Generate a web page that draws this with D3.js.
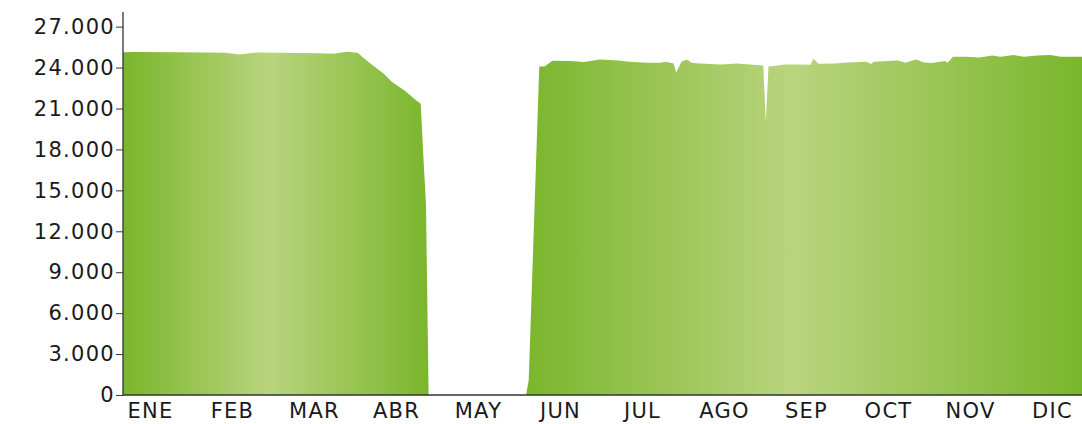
<!DOCTYPE html>
<html>
<head>
<meta charset="utf-8">
<script src="https://cdn.jsdelivr.net/npm/d3@7"></script>
<style>
  body { margin: 0; background: #fff; }
  .axis text { font-family: "DejaVu Sans", sans-serif; font-size: 21px; letter-spacing: 1.3px; fill: #1a1a1a; }
  .axis path, .axis line { stroke: #333; }
</style>
</head>
<body>
<script>
const months = ["ENE", "FEB", "MAR", "ABR", "MAY", "JUN", "JUL", "AGO", "SEP", "OCT", "NOV", "DIC"];
const yTicks = [0, 3000, 6000, 9000, 12000, 15000, 18000, 21000, 24000, 27000];

// day of year (0 = 1 ene) and value
const days = [0, 5, 22, 39, 44, 51, 60, 67, 74, 80, 85, 89, 94, 99, 102, 107, 111, 113, 114, 115,
  116, 153, 154, 158, 160, 163, 170, 175, 181, 189, 192, 199, 204, 206, 209, 210, 212, 214, 216,
  221, 227, 233, 239, 243, 244, 245, 248, 251, 257, 261, 262, 264, 270, 275, 282, 284, 285, 294,
  297, 301, 304, 307, 312, 313, 315, 320, 325, 330, 333, 338, 342, 347, 352, 356, 364];
const values = [25130, 25150, 25120, 25090, 24960, 25110, 25090, 25060, 25050, 25010, 25160, 25090,
  24280, 23550, 22960, 22300, 21640, 21350, 17500, 14000,
  0, 0, 1100, 24080, 24080, 24500, 24480, 24400, 24590, 24500, 24430, 24350, 24350, 24430, 24300,
  23640, 24430, 24590, 24330, 24280, 24230, 24300, 24200, 24150, 20050, 24080, 24130, 24230, 24230,
  24200, 24650, 24280, 24300, 24370, 24420, 24260, 24420, 24520, 24350, 24590, 24370, 24330, 24480,
  24350, 24790, 24790, 24740, 24890, 24790, 24920, 24790, 24890, 24920, 24790, 24790];

const w = 1082;
const h = 424;
const mLeft = 123, mRight = 1082, mTop = 13, mBottom = 395;

const data = days.map((d, i) => ({ day: d, value: values[i] }));

// split into runs that carry a non-zero value
const segments = [];
let cur = [];
data.forEach((p, i) => {
  const prev = data[i - 1];
  if (prev && prev.value === 0 && p.value === 0) {
    if (cur.length > 1) segments.push(cur);
    cur = [p];
  } else {
    cur.push(p);
  }
});
if (cur.length > 1) segments.push(cur);

const svg = d3.select("body").append("svg").attr("width", w).attr("height", h);

const x = d3.scaleLinear().domain([0, 364]).range([mLeft, mRight]);
const y = d3.scaleLinear().domain([0, 28000]).range([mBottom, mTop]);
const xm = d3.scalePoint().domain(months).range([150, 1052]);

const grad = svg.append("defs").append("linearGradient").attr("id", "g");
grad.selectAll("stop")
  .data([[0, "#7ab62c"], [0.48, "#b9d47e"], [1, "#7ab62c"]])
  .enter()
  .append("stop")
  .attr("offset", d => d[0])
  .attr("stop-color", d => d[1]);

const area = d3.area()
  .x(d => x(d.day))
  .y0(y(0))
  .y1(d => y(d.value));

svg.selectAll(".area")
  .data(segments)
  .enter()
  .append("path")
  .attr("class", "area")
  .attr("fill", "url(#g)")
  .attr("d", area);

const loc = d3.formatLocale({ decimal: ",", thousands: ".", grouping: [3], currency: ["", "€"] });

const yAxis = svg.append("g")
  .attr("class", "axis")
  .attr("transform", `translate(${mLeft},0)`)
  .call(d3.axisLeft(y).tickValues(yTicks).tickFormat(loc.format(",")).tickSize(7).tickPadding(1).tickSizeOuter(0));
yAxis.select(".domain").attr("stroke-width", 1.3).attr("d", `M0,${mTop - 1}V${mBottom}`);

const xAxis = svg.append("g")
  .attr("class", "axis")
  .attr("transform", `translate(0,${mBottom})`)
  .call(d3.axisBottom(xm).tickSize(0).tickPadding(8));
xAxis.select(".domain").attr("stroke-width", 1.5).attr("d", `M${mLeft},0H${mRight}`);
</script>
</body>
</html>
